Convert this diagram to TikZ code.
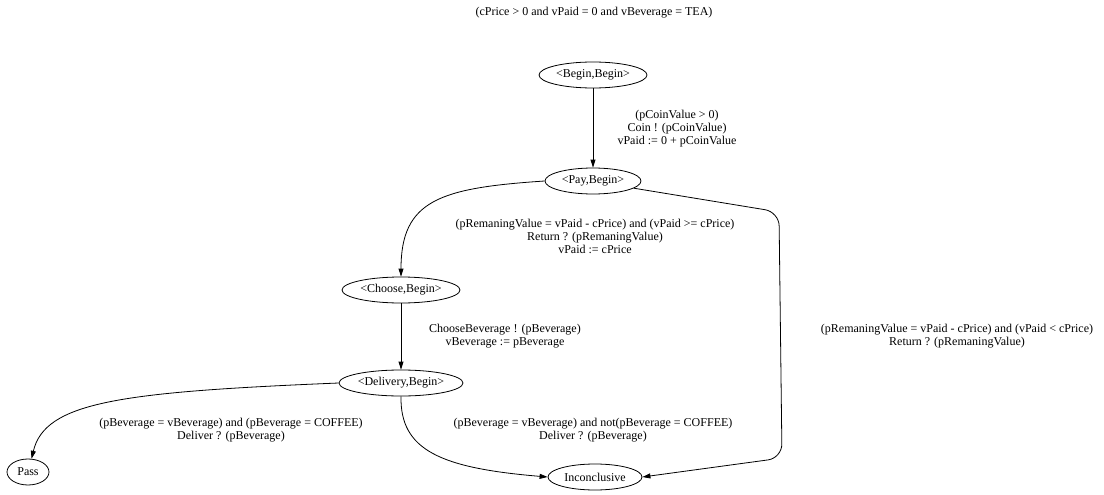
\documentclass[tikz,border=0pt]{standalone}
\usepackage{fontspec}
\setmainfont{Liberation Serif}
\usetikzlibrary{shapes.geometric,arrows.meta}
\tikzset{
  state/.style={draw, ellipse, inner sep=0pt, minimum height=26pt, line width=0.8pt, font=\fontsize{12}{13}\selectfont},
  guard/.style={align=center, inner sep=0pt, font=\fontsize{12}{13}\selectfont},
  trans/.style={-{Triangle[length=8pt,width=5pt]}, line width=0.8pt}
}
\begin{document}
\begin{tikzpicture}[x=1pt, y=-1pt]
	%%%%% START %%%%%
	\useasboundingbox (0,0) rectangle (1104,495);
	
	\node[guard] (init) at (594,13) {(cPrice > 0 and vPaid = 0 and vBeverage = TEA)};
	
	\node[state, minimum width=108pt] (bb) at (593,75) {<Begin,Begin>};
	\node[state, minimum width=96pt] (pb) at (593,181) {<Pay,Begin>};
	\node[state, minimum width=118pt] (cb) at (401,290) {<Choose,Begin>};
	\node[state, minimum width=124pt] (db) at (401,383) {<Delivery,Begin>};
	\node[state, minimum width=42pt] (pass) at (28,472) {Pass};
	\node[state, minimum width=94pt] (inc) at (595,477) {Inconclusive};
	
	\node[guard] (g1) at (677,129) {(pCoinValue > 0)\\Coin ! (pCoinValue)\\vPaid := 0 + pCoinValue};
	\node[guard] (g2) at (595,236) {(pRemaningValue = vPaid - cPrice) and (vPaid >= cPrice)\\Return ? (pRemaningValue)\\vPaid := cPrice};
	\node[guard] (g3) at (505,336) {ChooseBeverage ! (pBeverage)\\vBeverage := pBeverage};
	\node[guard] (g4) at (957,336) {(pRemaningValue = vPaid - cPrice) and (vPaid < cPrice)\\Return ? (pRemaningValue)};
	\node[guard] (g5) at (231,430) {(pBeverage = vBeverage) and (pBeverage = COFFEE)\\Deliver ? (pBeverage)};
	\node[guard] (g6) at (593,430) {(pBeverage = vBeverage) and not(pBeverage = COFFEE)\\Deliver ? (pBeverage)};
	
	\draw[trans] (bb) -- (pb);
	\draw[trans] (pb.west) .. controls (440,188) and (401,200) .. (cb.north);
	\draw[trans, rounded corners=14pt] (pb.-10) -- (779,212) -- (782,458) -- (inc.east);
	\draw[trans] (cb) -- (db);
	\draw[trans] (db.west) .. controls (120,392) and (45,402) .. (pass.75);
	\draw[trans] (db.south) .. controls (400,450) and (440,468) .. (inc.west);
	
	%%%%% END %%%%%
\end{tikzpicture}
\end{document}
